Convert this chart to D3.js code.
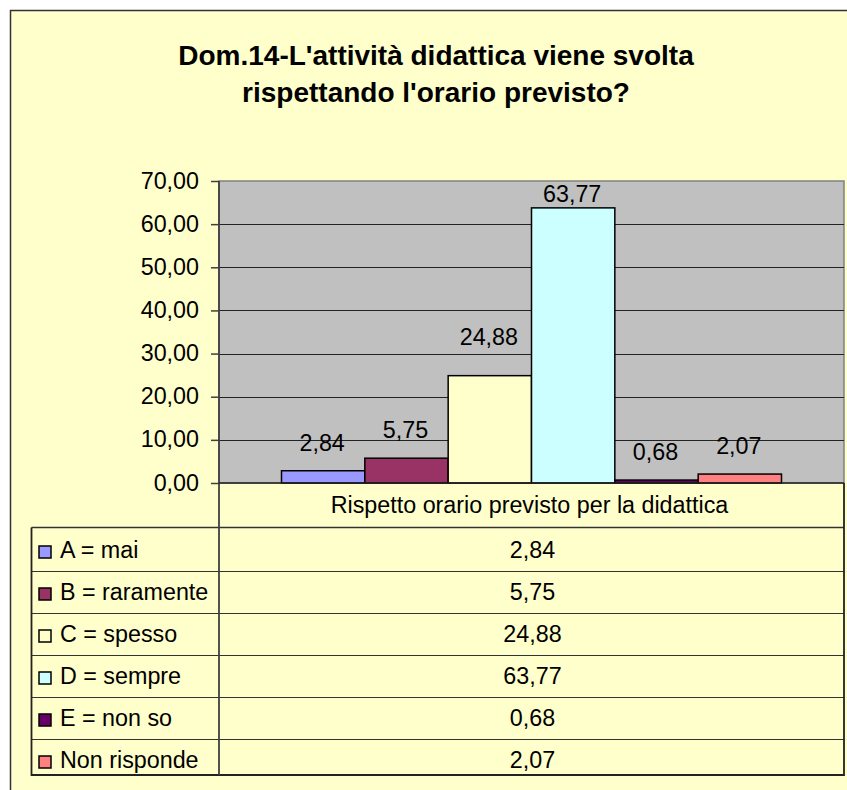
<!DOCTYPE html>
<html>
<head>
<meta charset="utf-8">
<script src="https://cdn.jsdelivr.net/npm/d3@7"></script>
<style>
  body { margin: 0; background: #ffffff; }
  text { font-family: "Liberation Sans", Arial, sans-serif; fill: #000; }
</style>
</head>
<body>
<div id="chart"></div>
<script>
// dati
var titleLines = ["Dom.14-L'attività didattica viene svolta", "rispettando l'orario previsto?"];
var seriesName = "Rispetto orario previsto per la didattica";
var categories = ["A = mai", "B = raramente", "C = spesso", "D = sempre", "E = non so", "Non risponde"];
var values = [2.84, 5.75, 24.88, 63.77, 0.68, 2.07];
var barColors = ["#9999FF", "#993366", "#FFFFCC", "#CCFFFF", "#660066", "#FF8080"];
var yTicks = [0, 10, 20, 30, 40, 50, 60, 70];
// spostamento manuale delle etichette sopra le barre (px)
var labelLift = [20, 20, 31, 6, 20, 20];

(function() {
	var width = 847,
		height = 790;

	var fontSize = "23.3px";

	var it = d3.formatLocale({decimal: ",", thousands: ".", grouping: [3], currency: ["", "€"]});
	var fmt = it.format(".2f");

	var svg = d3.select("#chart")
		.append("svg")
		.attr("width", width)
		.attr("height", height);

	// area del grafico
	svg.append("rect")
		.attr("x", 10.5).attr("y", 10.5)
		.attr("width", width + 20).attr("height", height + 20)
		.attr("fill", "#FFFFCC")
		.attr("stroke", "#333")
		.attr("stroke-width", 1.5);

	// titolo
	svg.append("text")
		.attr("x", 436)
		.attr("y", 65)
		.attr("text-anchor", "middle")
		.style("font-size", "28px")
		.style("font-weight", "bold")
		.selectAll("tspan")
		.data(titleLines)
		.enter().append("tspan")
		.attr("x", 436)
		.attr("dy", function(d, i) { return i === 0 ? 0 : 36.5; })
		.text(function(d) { return d; });

	var plotLeft = 219, plotRight = 844, plotTop = 181, plotBottom = 483;
	var tableLeft = 31.5, tableBottom = 775;

	var y = d3.scaleLinear()
		.domain([0, 70])
		.range([plotBottom, plotTop]);

	var gap = (plotRight - plotLeft) / (categories.length + 1.5) * 0.75;
	var x = d3.scaleBand()
		.domain(categories)
		.range([plotLeft + gap, plotRight - gap])
		.paddingInner(0);

	// sfondo area tracciato
	svg.append("rect")
		.attr("x", plotLeft).attr("y", plotTop)
		.attr("width", plotRight - plotLeft).attr("height", plotBottom - plotTop)
		.attr("fill", "#C0C0C0")
		.attr("stroke", "#808080")
		.attr("stroke-width", 1.5);

	// griglia
	svg.append("g")
		.selectAll("line")
		.data(yTicks.filter(function(d) { return d > 0 && d < 70; }))
		.enter().append("line")
		.attr("x1", plotLeft).attr("x2", plotRight)
		.attr("y1", function(d) { return Math.round(y(d)) + 0.5; })
		.attr("y2", function(d) { return Math.round(y(d)) + 0.5; })
		.attr("stroke", "#222")
		.attr("stroke-width", 1);

	// barre
	svg.append("g")
		.selectAll("rect")
		.data(values)
		.enter().append("rect")
		.attr("x", function(d, i) { return x(categories[i]); })
		.attr("y", function(d) { return y(d); })
		.attr("width", x.bandwidth())
		.attr("height", function(d) { return plotBottom - y(d); })
		.attr("fill", function(d, i) { return barColors[i]; })
		.attr("stroke", "#000")
		.attr("stroke-width", 1.5);

	// etichette dati
	svg.append("g")
		.selectAll("text")
		.data(values)
		.enter().append("text")
		.attr("x", function(d, i) { return x(categories[i]) + x.bandwidth() / 2 - 1; })
		.attr("y", function(d, i) { return y(d) - labelLift[i]; })
		.attr("text-anchor", "middle")
		.style("font-size", fontSize)
		.text(function(d) { return fmt(d); });

	// asse y
	var yAxis = svg.append("g")
		.attr("transform", "translate(" + plotLeft + ",0)")
		.call(d3.axisLeft(y).tickValues(yTicks).tickSize(8).tickPadding(12).tickFormat(fmt));
	yAxis.select(".domain").remove();
	yAxis.selectAll(".tick line").attr("stroke", "#404040").attr("stroke-width", 1.5);
	yAxis.selectAll(".tick text")
		.style("font-family", "'Liberation Sans', Arial, sans-serif")
		.style("font-size", fontSize)
		.attr("dy", "0.3em")
		.attr("fill", "#000");

	// tabella dati
	var row = d3.scaleBand()
		.domain(categories)
		.range([529, 781]);

	var table = svg.append("g");

	table.append("text")
		.attr("x", (plotLeft + plotRight) / 2 - 2)
		.attr("y", (plotBottom + 527) / 2 + 8)
		.attr("text-anchor", "middle")
		.style("font-size", fontSize)
		.text(seriesName);

	table.selectAll(".row-line")
		.data(categories.slice(1))
		.enter().append("line")
		.attr("class", "row-line")
		.attr("x1", tableLeft).attr("x2", plotRight)
		.attr("y1", function(d) { return Math.round(row(d)) + 0.5; })
		.attr("y2", function(d) { return Math.round(row(d)) + 0.5; })
		.attr("stroke", "#333")
		.attr("stroke-width", 1.2);

	table.append("line")
		.attr("x1", tableLeft).attr("x2", plotRight)
		.attr("y1", 527.5).attr("y2", 527.5)
		.attr("stroke", "#333").attr("stroke-width", 1.5);

	table.append("path")
		.attr("d", "M" + tableLeft + ",527.5V" + tableBottom + "H" + plotRight + "V" + plotBottom)
		.attr("fill", "none")
		.attr("stroke", "#222")
		.attr("stroke-width", 1.8);

	// chiavi legenda
	table.selectAll(".key")
		.data(categories)
		.enter().append("rect")
		.attr("class", "key")
		.attr("x", 39)
		.attr("y", function(d) { return row(d) + row.bandwidth() / 2 - 4; })
		.attr("width", 12).attr("height", 12)
		.attr("fill", function(d, i) { return barColors[i]; })
		.attr("stroke", "#000")
		.attr("stroke-width", 1.5);

	table.selectAll(".cat")
		.data(categories)
		.enter().append("text")
		.attr("class", "cat")
		.attr("x", 60)
		.attr("y", function(d) { return row(d) + row.bandwidth() / 2 + 8; })
		.style("font-size", fontSize)
		.text(function(d) { return d; });

	table.selectAll(".val")
		.data(values)
		.enter().append("text")
		.attr("class", "val")
		.attr("x", (plotLeft + plotRight) / 2 + 1)
		.attr("y", function(d, i) { return row(categories[i]) + row.bandwidth() / 2 + 8; })
		.attr("text-anchor", "middle")
		.style("font-size", fontSize)
		.text(function(d) { return fmt(d); });

	// asse verticale (continua nella tabella)
	svg.append("line")
		.attr("x1", plotLeft).attr("x2", plotLeft)
		.attr("y1", plotTop).attr("y2", tableBottom)
		.attr("stroke", "#404040")
		.attr("stroke-width", 1.8);

	// linea dello zero
	svg.append("line")
		.attr("x1", plotLeft).attr("x2", plotRight)
		.attr("y1", plotBottom).attr("y2", plotBottom)
		.attr("stroke", "#222")
		.attr("stroke-width", 1.5);
})();
</script>
</body>
</html>
